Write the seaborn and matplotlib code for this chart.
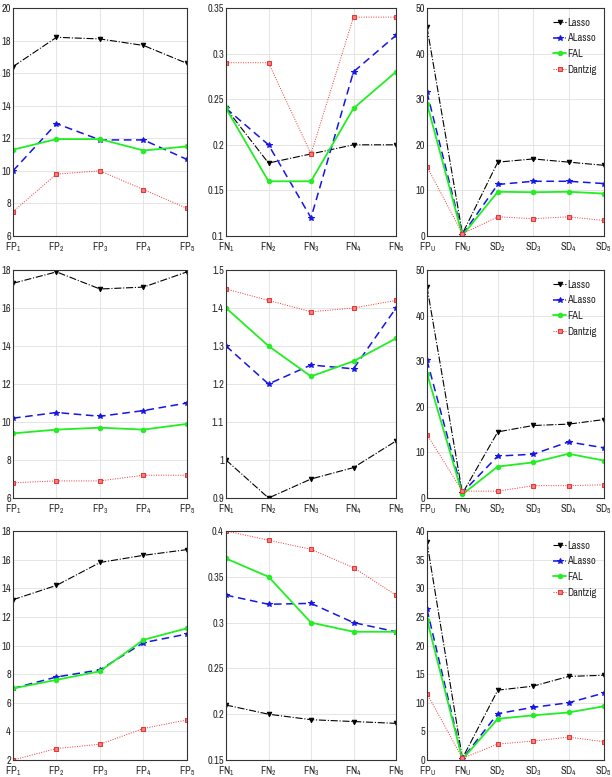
import matplotlib
matplotlib.use("Agg")
import matplotlib.pyplot as plt
from matplotlib import font_manager
import seaborn as sns
import numpy as np

sns.set_style("whitegrid")

narrow = None
for f in font_manager.fontManager.ttflist:
    nm = f.name
    if ("Narrow" in nm or "Condensed" in nm) and "Mono" not in nm:
        narrow = nm
        break
if narrow is None:
    for f in font_manager.fontManager.ttflist:
        if f.stretch in ("condensed", "semi-condensed", "extra-condensed") or (isinstance(f.stretch, int) and f.stretch < 500):
            narrow = f.name
            break
base_font = narrow if narrow else "Liberation Sans"

plt.rcParams['font.family'] = [base_font, 'DejaVu Sans']
plt.rcParams['mathtext.fontset'] = 'custom'
plt.rcParams['mathtext.rm'] = base_font
plt.rcParams['mathtext.it'] = base_font

methods = ["Lasso", "ALasso", "FAL", "Dantzig"]

fp_labels = ["FP$_1$", "FP$_2$", "FP$_3$", "FP$_4$", "FP$_5$"]
fn_labels = ["FN$_1$", "FN$_2$", "FN$_3$", "FN$_4$", "FN$_5$"]
sd_labels = ["FP$_U$", "FN$_U$", "SD$_2$", "SD$_3$", "SD$_4$", "SD$_5$"]

# Row 1
r1_fp_lasso = [16.4, 18.2, 18.1, 17.7, 16.6]
r1_fp_alasso = [10.0, 12.9, 11.9, 11.9, 10.7]
r1_fp_fal = [11.3, 11.95, 11.95, 11.25, 11.5]
r1_fp_dantzig = [7.5, 9.8, 10.0, 8.85, 7.7]

r1_fn_lasso = [0.24, 0.18, 0.19, 0.20, 0.20]
r1_fn_alasso = [0.24, 0.20, 0.12, 0.28, 0.32]
r1_fn_fal = [0.24, 0.16, 0.16, 0.24, 0.28]
r1_fn_dantzig = [0.29, 0.29, 0.19, 0.34, 0.34]

r1_sd_lasso = [45.8, 0.5, 16.2, 16.9, 16.2, 15.5]
r1_sd_alasso = [31.5, 0.3, 11.3, 12.0, 12.0, 11.5]
r1_sd_fal = [29.0, 0.1, 9.7, 9.6, 9.7, 9.3]
r1_sd_dantzig = [15.2, 0.5, 4.2, 3.8, 4.2, 3.4]

# Row 2
r2_fp_lasso = [17.3, 17.9, 17.0, 17.1, 17.9]
r2_fp_alasso = [10.2, 10.5, 10.3, 10.6, 11.0]
r2_fp_fal = [9.4, 9.6, 9.7, 9.6, 9.9]
r2_fp_dantzig = [6.8, 6.9, 6.9, 7.2, 7.2]

r2_fn_lasso = [1.0, 0.9, 0.95, 0.98, 1.05]
r2_fn_alasso = [1.3, 1.2, 1.25, 1.24, 1.4]
r2_fn_fal = [1.4, 1.3, 1.22, 1.26, 1.32]
r2_fn_dantzig = [1.45, 1.42, 1.39, 1.40, 1.42]

r2_sd_lasso = [46.3, 1.0, 14.5, 15.9, 16.2, 17.2]
r2_sd_alasso = [30.2, 1.2, 9.2, 9.6, 12.3, 11.0]
r2_sd_fal = [27.3, 0.8, 6.9, 7.8, 9.7, 8.2]
r2_sd_dantzig = [13.9, 1.5, 1.5, 2.7, 2.7, 2.9]

# Row 3
r3_fp_lasso = [13.2, 14.2, 15.8, 16.3, 16.7]
r3_fp_alasso = [7.0, 7.8, 8.3, 10.2, 10.8]
r3_fp_fal = [7.0, 7.6, 8.2, 10.4, 11.2]
r3_fp_dantzig = [2.0, 2.8, 3.1, 4.2, 4.8]

r3_fn_lasso = [0.21, 0.20, 0.194, 0.192, 0.19]
r3_fn_alasso = [0.33, 0.32, 0.321, 0.30, 0.29]
r3_fn_fal = [0.37, 0.35, 0.30, 0.29, 0.29]
r3_fn_dantzig = [0.40, 0.39, 0.38, 0.36, 0.33]

r3_sd_lasso = [38.0, 0.3, 12.2, 12.9, 14.6, 14.8]
r3_sd_alasso = [26.3, 0.2, 8.1, 9.2, 10.0, 11.7]
r3_sd_fal = [24.5, 0.1, 7.2, 7.8, 8.3, 9.4]
r3_sd_dantzig = [11.6, 0.3, 2.8, 3.3, 4.0, 3.2]

styles = {
    "Lasso": dict(color="#000000", linestyle="-.", marker="v", markersize=3.2, linewidth=0.8),
    "ALasso": dict(color="#1515e6", linestyle=(0, (5, 3)), marker="*", markersize=4.0, linewidth=1.1),
    "FAL": dict(color="#22ee22", linestyle="-", marker="o", markersize=3.2, linewidth=1.3),
    "Dantzig": dict(color="#ee3333", linestyle=(0, (1, 1.5)), marker="s", markersize=3.0, linewidth=0.7,
                    markerfacecolor="#f08080"),
}

panels = [
    [(fp_labels, [r1_fp_lasso, r1_fp_alasso, r1_fp_fal, r1_fp_dantzig], (6, 20), np.arange(6, 20.1, 2)),
     (fn_labels, [r1_fn_lasso, r1_fn_alasso, r1_fn_fal, r1_fn_dantzig], (0.1, 0.35), np.arange(0.1, 0.351, 0.05)),
     (sd_labels, [r1_sd_lasso, r1_sd_alasso, r1_sd_fal, r1_sd_dantzig], (0, 50), np.arange(0, 50.1, 10))],
    [(fp_labels, [r2_fp_lasso, r2_fp_alasso, r2_fp_fal, r2_fp_dantzig], (6, 18), np.arange(6, 18.1, 2)),
     (fn_labels, [r2_fn_lasso, r2_fn_alasso, r2_fn_fal, r2_fn_dantzig], (0.9, 1.5), np.arange(0.9, 1.501, 0.1)),
     (sd_labels, [r2_sd_lasso, r2_sd_alasso, r2_sd_fal, r2_sd_dantzig], (0, 50), np.arange(0, 50.1, 10))],
    [(fp_labels, [r3_fp_lasso, r3_fp_alasso, r3_fp_fal, r3_fp_dantzig], (2, 18), np.arange(2, 18.1, 2)),
     (fn_labels, [r3_fn_lasso, r3_fn_alasso, r3_fn_fal, r3_fn_dantzig], (0.15, 0.4), np.arange(0.15, 0.401, 0.05)),
     (sd_labels, [r3_sd_lasso, r3_sd_alasso, r3_sd_fal, r3_sd_dantzig], (0, 40), np.arange(0, 40.1, 5))],
]

fig = plt.figure(figsize=(6.12, 7.77), dpi=100)
col_lefts = [13 / 612, 226 / 612, 427 / 612]
col_widths = [174 / 612, 170 / 612, 177 / 612]
row_bottoms = [1 - 236 / 777, 1 - 498 / 777, 1 - 760 / 777]
row_heights = [228 / 777, 228 / 777, 229 / 777]

def fmt(v):
    s = f"{v:.2f}".rstrip("0").rstrip(".")
    return s

fs = 7.5 if narrow else 7
for r in range(3):
    for c in range(3):
        labels, series, ylim, yticks = panels[r][c]
        ax = fig.add_axes([col_lefts[c], row_bottoms[r], col_widths[c], row_heights[r]])
        x = np.arange(len(labels))
        for m, vals in zip(methods, series):
            st = dict(styles[m])
            sns.lineplot(x=x, y=vals, ax=ax, label=m, markeredgecolor=st["color"], **st)
        ax.set_xlim(0, len(labels) - 1)
        ax.set_ylim(*ylim)
        ax.set_xticks(x)
        ax.set_xticklabels(labels)
        ax.set_yticks(yticks)
        ax.set_yticklabels([fmt(v) for v in yticks])
        ax.tick_params(axis="y", labelsize=fs, direction="in", length=3, width=0.6,
                       color="#333333", pad=1.5)
        ax.tick_params(axis="x", labelsize=fs, direction="in", length=3, width=0.6,
                       color="#333333", pad=3)
        ax.grid(True, color="#e0e0e0", linewidth=0.6)
        for sp in ax.spines.values():
            sp.set_color("#333333")
            sp.set_linewidth(0.8)
        if c == 2:
            ax.legend(loc="upper right", bbox_to_anchor=(1.0, 0.99), frameon=False, fontsize=fs,
                      handlelength=1.2, handletextpad=0.15, labelspacing=0.55, borderaxespad=0.3)
        else:
            ax.get_legend().remove()

fig.savefig("out.png", dpi=100)
